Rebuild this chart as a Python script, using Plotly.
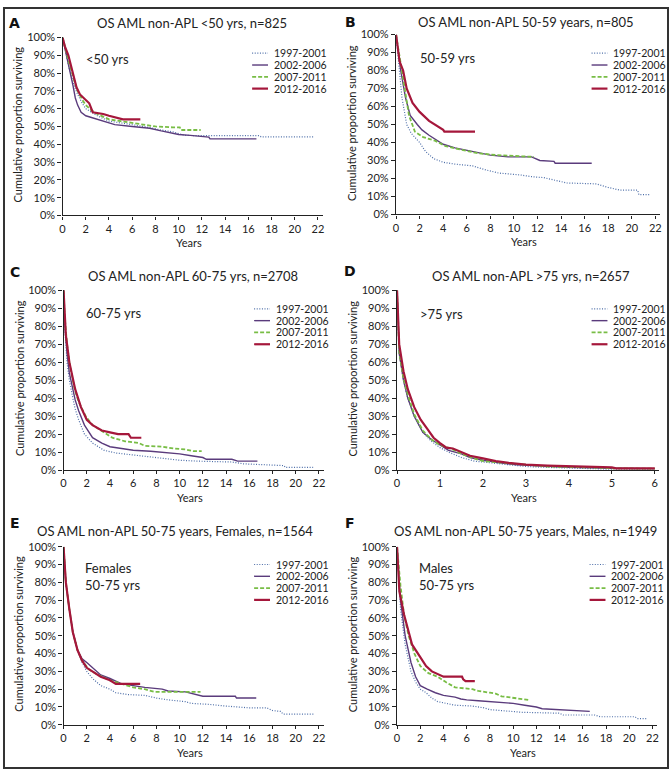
import plotly.graph_objects as go

W, H = 671, 776

# ---------------- data (years, % surviving) ----------------
series_names = ["1997-2001", "2002-2006", "2007-2011", "2012-2016"]

panel_titles = ["OS AML non-APL <50 yrs, n=825",
                "OS AML non-APL 50-59 years, n=805",
                "OS AML non-APL 60-75 yrs, n=2708",
                "OS AML non-APL >75 yrs, n=2657",
                "OS AML non-APL 50-75 years, Females, n=1564",
                "OS AML non-APL 50-75 years, Males, n=1949"]
panel_letters = ["A", "B", "C", "D", "E", "F"]
panel_labels = ["<50 yrs", "50-59 yrs", "60-75 yrs", ">75 yrs",
                "Females<br>50-75 yrs", "Males<br>50-75 yrs"]

y_ticks = [0, 0.1, 0.2, 0.3, 0.4, 0.5, 0.6, 0.7, 0.8, 0.9, 1.0]
x_ticks_long = [0, 2, 4, 6, 8, 10, 12, 14, 16, 18, 20, 22]
x_ticks_short = [0, 1, 2, 3, 4, 5, 6]

# Panel A
A_9701_t = [0, 0.3, 0.6, 1.0, 1.3, 1.7, 2.0, 2.5, 3.0, 4.0, 5.0, 6.0, 7.0, 8.5, 9.5, 10.5, 12.0, 17.0, 17.1, 21.6]
A_9701_s = [100, 90, 82, 73, 68, 63, 60, 58, 56, 53, 52, 51, 50, 48, 47, 45, 44.8, 44.8, 44.2, 44.2]
A_0206_t = [0, 0.3, 0.6, 0.9, 1.1, 1.3, 1.6, 2.0, 2.5, 3.0, 3.8, 4.5, 6.0, 7.5, 8.5, 10.0, 11.0, 12.0, 12.6, 12.7, 16.7]
A_0206_s = [100, 90, 82, 73, 66, 62, 58, 56, 55, 54, 52, 51, 50, 49, 47.5, 45.5, 45, 44.5, 44, 43, 43]
A_0711_t = [0, 0.3, 0.6, 1.0, 1.3, 1.7, 2.0, 2.5, 3.0, 4.0, 5.0, 6.0, 7.0, 8.0, 9.5, 10.1, 10.2, 11.9]
A_0711_s = [100, 92, 85, 76, 70, 65, 62, 59, 57, 54, 53, 52, 51, 50, 49.5, 49.5, 48, 48]
A_1216_t = [0, 0.2, 0.5, 0.9, 1.2, 1.5, 2.0, 2.3, 2.6, 3.5, 4.0, 4.5, 5.2, 6.7]
A_1216_s = [100, 95, 90, 80, 72, 68, 65, 63, 58, 57, 56, 55, 54, 54]

# Panel B
B_9701_t = [0, 0.2, 0.5, 0.9, 1.3, 2.0, 2.5, 3.2, 4.0, 5.0, 6.5, 7.5, 8.7, 10.5, 11.5, 12.5, 13.5, 14.5, 17.0, 18.0, 19.0, 20.5, 20.6, 21.6]
B_9701_s = [100, 85, 65, 50, 45, 40, 35, 31, 29, 28, 27, 25, 23, 22, 21, 20.5, 19, 17.5, 17, 15, 13.5, 13.5, 11, 11]
B_0206_t = [0, 0.4, 0.8, 1.2, 1.8, 2.2, 2.8, 3.3, 4.0, 5.0, 6.5, 8.0, 9.5, 11.5, 12.2, 13.4, 13.5, 16.6]
B_0206_s = [100, 80, 65, 55, 50, 47, 44, 42, 39, 37, 35, 33, 32, 32, 30, 29.5, 28.5, 28.5]
B_0711_t = [0, 0.3, 0.7, 1.1, 1.6, 2.3, 3.3, 4.2, 5.5, 7.0, 8.5, 10.0, 11.7]
B_0711_s = [100, 88, 70, 55, 46, 43, 41, 38, 36, 34, 33, 32.5, 32]
B_1216_t = [0, 0.3, 0.6, 0.9, 1.4, 2.0, 2.8, 3.5, 4.0, 4.1, 6.7]
B_1216_s = [100, 85, 80, 70, 62, 57, 52, 49, 47, 46, 46]

# Panel C
C_9701_t = [0, 0.1, 0.3, 0.5, 0.8, 1.0, 1.3, 1.8, 2.5, 3.5, 4.5, 6.0, 7.0, 8.5, 10.0, 11.5, 14.5, 15.5, 17.0, 18.5, 19.0, 19.1, 21.5]
C_9701_s = [100, 80, 60, 50, 40, 34, 28, 20, 15, 11, 9.5, 8.5, 7.5, 6.5, 5.5, 5, 4.5, 3.5, 3, 2.5, 2.5, 1.5, 1.5]
C_0206_t = [0, 0.1, 0.3, 0.5, 0.8, 1.0, 1.3, 1.8, 2.5, 3.3, 4.0, 5.0, 6.0, 7.5, 8.5, 10.0, 11.0, 12.0, 12.3, 14.5, 15.0, 16.7]
C_0206_s = [100, 82, 65, 54, 45, 39, 33, 25, 18, 15, 13, 12, 11, 10.5, 10, 9, 8, 7, 6, 6, 5, 5]
C_0711_t = [0, 0.1, 0.3, 0.5, 0.8, 1.0, 1.3, 1.9, 2.5, 3.5, 4.2, 5.3, 6.5, 7.0, 8.5, 9.5, 10.5, 11.2, 11.9]
C_0711_s = [100, 85, 70, 60, 50, 44, 38, 30, 25, 21, 18, 16, 15, 13.5, 13, 12, 11.5, 10.5, 10.5]
C_1216_t = [0, 0.1, 0.2, 0.5, 1.0, 1.5, 2.0, 2.5, 3.3, 4.0, 4.7, 5.6, 5.8, 6.7]
C_1216_s = [100, 85, 75, 60, 45, 35, 28, 25, 22, 21, 20, 20, 18, 18]

# Panel D
D_9701_t = [0, 0.05, 0.15, 0.25, 0.4, 0.6, 0.8, 1.0, 1.2, 1.5, 1.8, 2.2, 2.6, 3.0, 3.5, 4.5, 5.0, 6.0]
D_9701_s = [100, 65, 50, 40, 30, 21, 16, 12.5, 10, 7, 5, 4, 3, 2, 1.5, 1, 0.5, 0.5]
D_0206_t = [0, 0.05, 0.15, 0.25, 0.4, 0.6, 0.8, 1.0, 1.2, 1.5, 1.7, 2.0, 2.4, 2.8, 3.5, 4.0, 5.0, 6.0]
D_0206_s = [100, 65, 50, 40, 30, 21, 17, 14, 11, 9, 7, 5.5, 4, 3, 2, 1.5, 1, 0.8]
D_0711_t = [0, 0.05, 0.15, 0.25, 0.4, 0.6, 0.8, 1.0, 1.3, 1.5, 1.8, 2.0, 2.5, 3.0, 3.5, 4.5, 5.0, 6.0]
D_0711_s = [100, 66, 51, 42, 31, 22, 17, 14, 11.5, 9, 6.5, 5, 4, 3, 2, 1.5, 1, 0.8]
D_1216_t = [0, 0.05, 0.15, 0.25, 0.4, 0.55, 0.7, 0.85, 1.0, 1.15, 1.3, 1.5, 1.7, 2.0, 2.3, 2.6, 3.0, 3.5, 4.2, 5.0, 5.1, 6.0]
D_1216_s = [100, 70, 55, 45, 35, 28, 23, 18, 15, 12.5, 12, 10, 8, 6.5, 5, 4, 3, 2.5, 2, 1.5, 1, 1]

# Panel E
E_9701_t = [0, 0.2, 0.5, 0.8, 1.2, 1.6, 2.0, 2.5, 3.2, 4.0, 4.5, 5.5, 7.0, 8.0, 9.0, 10.5, 11.0, 12.5, 14.0, 15.0, 16.0, 17.5, 18.0, 18.7, 18.9, 21.6]
E_9701_s = [100, 80, 65, 52, 42, 35, 30, 26, 22, 20, 18, 17, 16.5, 15, 14, 13, 12, 11.5, 10.5, 10, 9.5, 9.5, 8, 7.5, 6, 6]
E_0206_t = [0, 0.2, 0.5, 0.8, 1.2, 1.6, 2.0, 2.5, 3.2, 4.0, 5.0, 6.0, 7.0, 8.5, 9.0, 10.5, 11.5, 12.0, 14.8, 14.9, 16.6]
E_0206_s = [100, 80, 65, 52, 42, 37, 35, 32, 28, 26, 23, 22, 21, 20, 19, 18.5, 17, 16, 16, 15, 15]
E_0711_t = [0, 0.2, 0.5, 0.8, 1.2, 1.6, 2.2, 3.0, 4.0, 5.0, 6.0, 7.0, 7.8, 9.0, 11.8]
E_0711_s = [100, 80, 65, 52, 42, 36, 31, 28, 25, 23, 21, 20, 18.5, 18.5, 18.5]
E_1216_t = [0, 0.2, 0.5, 0.8, 1.2, 1.6, 2.0, 2.5, 3.2, 4.0, 4.5, 6.6]
E_1216_s = [100, 80, 65, 52, 42, 36, 32, 30, 27, 25, 23, 23]

# Panel F
F_9701_t = [0, 0.3, 0.7, 1.2, 1.6, 2.0, 2.5, 3.0, 3.5, 4.2, 5.0, 6.5, 7.5, 8.0, 9.0, 10.0, 10.8, 14.0, 14.3, 17.0, 17.5, 20.5, 20.7, 21.6]
F_9701_s = [100, 65, 45, 30, 24, 20, 18, 15, 13, 12, 11, 10.5, 9.5, 8.5, 8, 7.5, 7, 6.5, 5.5, 5.5, 4.5, 4.5, 3.5, 3.5]
F_0206_t = [0, 0.3, 0.7, 1.2, 1.6, 2.0, 2.6, 3.3, 4.0, 5.0, 5.5, 6.0, 7.0, 8.0, 9.5, 10.0, 11.0, 12.0, 12.5, 14.0, 14.5, 16.6]
F_0206_s = [100, 70, 50, 35, 27, 22, 20, 18, 16.5, 15.5, 14.5, 14, 13.5, 13, 12.5, 12, 11, 10, 9, 8.5, 8, 7.5]
F_0711_t = [0, 0.3, 0.6, 1.0, 1.5, 2.0, 2.7, 3.5, 4.2, 4.7, 5.0, 6.5, 7.0, 8.0, 8.5, 9.0, 10.0, 11.0, 11.3]
F_0711_s = [100, 78, 62, 50, 40, 33, 29, 27, 24, 22, 21, 20, 19, 18, 17.5, 16, 15, 14, 14]
F_1216_t = [0, 0.2, 0.6, 1.0, 1.3, 2.0, 2.5, 3.0, 3.5, 4.0, 5.6, 5.7, 5.9, 6.7]
F_1216_s = [100, 75, 62, 52, 45, 38, 33, 30, 28.5, 27, 27, 25.5, 24.5, 24.5]

panel_data = [
    [(A_9701_t, A_9701_s), (A_0206_t, A_0206_s), (A_0711_t, A_0711_s), (A_1216_t, A_1216_s)],
    [(B_9701_t, B_9701_s), (B_0206_t, B_0206_s), (B_0711_t, B_0711_s), (B_1216_t, B_1216_s)],
    [(C_9701_t, C_9701_s), (C_0206_t, C_0206_s), (C_0711_t, C_0711_s), (C_1216_t, C_1216_s)],
    [(D_9701_t, D_9701_s), (D_0206_t, D_0206_s), (D_0711_t, D_0711_s), (D_1216_t, D_1216_s)],
    [(E_9701_t, E_9701_s), (E_0206_t, E_0206_s), (E_0711_t, E_0711_s), (E_1216_t, E_1216_s)],
    [(F_9701_t, F_9701_s), (F_0206_t, F_0206_s), (F_0711_t, F_0711_s), (F_1216_t, F_1216_s)],
]

# ---------------- styling / layout (pixels) ----------------
FONT = "Lato"
TXT = "#222222"
styles = [
    dict(color="#4d6ea8", width=1.2, dash="1px,1.6px"),
    dict(color="#5a3b7c", width=1.4, dash="solid"),
    dict(color="#78bd45", width=1.8, dash="4px,2px"),
    dict(color="#a5173b", width=2.2, dash="solid"),
]
# plot areas: x0, x1, ytop, ybottom, xmax
boxes = [
    (60, 322, 31, 212, 22.4),
    (396, 662, 28, 211, 22.4),
    (61, 323, 288, 471, 22.4),
    (397, 661, 288, 471, 6.1),
    (61, 323, 549, 730, 22.4),
    (397, 659, 549, 730, 22.4),
]
legend_pos = [(251, 47), (593, 47), (253, 307), (593, 307), (253, 567), (591, 567)]
label_pos = [(82, 53), (418, 52), (82, 311), (418, 312), (81, 579), (417, 579)]
letter_pos = [(12, 16), (350, 15), (12, 270), (350, 268), (12, 525), (350, 525)]
title_pos = [(190, 16), (527, 15), (191, 274), (532, 274), (173, 533), (526, 533)]


def px(x):
    return x / W


def py(y):
    return 1 - y / H


fig = go.Figure()
annotations = []
shapes = []

for i in range(6):
    n = "" if i == 0 else str(i + 1)
    x0, x1, yt, yb, xmax = boxes[i]
    for j, (t, s) in enumerate(panel_data[i]):
        fig.add_trace(go.Scatter(
            x=t, y=[v / 100 for v in s], mode="lines",
            line=dict(color=styles[j]["color"], width=styles[j]["width"], dash=styles[j]["dash"]),
            name=series_names[j], showlegend=False,
            xaxis="x" + n, yaxis="y" + n, hoverinfo="skip"))
    xt = x_ticks_short if i == 3 else x_ticks_long
    fig.layout["xaxis" + n] = dict(
        domain=[px(x0), px(x1)], range=[0, xmax], anchor="y" + n,
        tickvals=xt, ticks="outside", ticklen=3, tickcolor="#222",
        showline=True, linecolor="#222", linewidth=1.3, showgrid=False, zeroline=False,
        tickfont=dict(family=FONT, size=11, color=TXT), fixedrange=True)
    fig.layout["yaxis" + n] = dict(
        domain=[py(yb), py(yt)], range=[0, 1], anchor="x" + n,
        tickvals=y_ticks, tickformat=".0%", ticks="outside", ticklen=4, tickcolor="#222",
        showline=True, linecolor="#222", linewidth=1.3, showgrid=False, zeroline=False,
        tickfont=dict(family=FONT, size=11, color=TXT), fixedrange=True)

    # titles
    tx, ty = title_pos[i]
    annotations.append(dict(text=panel_titles[i], x=px(tx), y=py(ty), xref="paper", yref="paper",
                            showarrow=False, xanchor="center", yanchor="middle",
                            font=dict(family=FONT, size=13, color=TXT)))
    lx, ly = letter_pos[i]
    annotations.append(dict(text="<b>" + panel_letters[i] + "</b>", x=px(lx), y=py(ly),
                            xref="paper", yref="paper", showarrow=False,
                            xanchor="center", yanchor="middle",
                            font=dict(family="DejaVu Sans", size=14, color="#111")))
    gx, gy = label_pos[i]
    annotations.append(dict(text=panel_labels[i], x=px(gx), y=py(gy), xref="paper", yref="paper",
                            showarrow=False, xanchor="left", yanchor="middle", align="left",
                            font=dict(family=FONT, size=13, color=TXT)))
    # axis titles
    annotations.append(dict(text="Years", x=px((x0 + x1) / 2 - 4), y=py(yb + 28),
                            xref="paper", yref="paper", showarrow=False,
                            xanchor="center", yanchor="middle",
                            font=dict(family=FONT, size=11, color=TXT)))
    annotations.append(dict(text="Cumulative proportion surviving", x=px(x0 - 45),
                            y=py((yt + yb) / 2 - 2), xref="paper", yref="paper",
                            showarrow=False, textangle=-90, xanchor="center", yanchor="middle",
                            font=dict(family=FONT, size=11, color=TXT)))
    # legend
    lgx, lgy = legend_pos[i]
    for j in range(4):
        yy = lgy + 12 * j
        shapes.append(dict(type="line", xref="paper", yref="paper",
                           x0=px(lgx), x1=px(lgx + 16), y0=py(yy), y1=py(yy),
                           line=dict(color=styles[j]["color"], width=styles[j]["width"],
                                     dash=styles[j]["dash"])))
        annotations.append(dict(text=series_names[j], x=px(lgx + 20), y=py(yy),
                                xref="paper", yref="paper", showarrow=False,
                                xanchor="left", yanchor="middle",
                                font=dict(family=FONT, size=10.5, color=TXT)))

# outer frame
shapes.append(dict(type="rect", xref="paper", yref="paper", x0=px(1), x1=px(670), y0=py(774), y1=py(1),
                   line=dict(color="#333", width=2)))

fig.update_layout(width=W, height=H, margin=dict(l=0, r=0, t=0, b=0),
                  paper_bgcolor="white", plot_bgcolor="white",
                  annotations=annotations, shapes=shapes, showlegend=False)

fig.write_html("out.html", config={"displayModeBar": False},
               post_script="document.body.style.margin='0';document.body.style.overflow='hidden';")
